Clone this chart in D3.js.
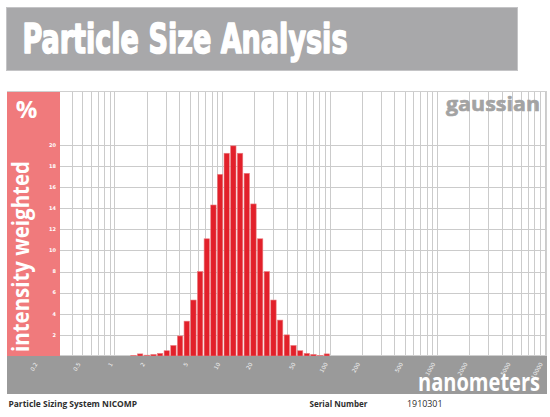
<!DOCTYPE html>
<html>
<head>
<meta charset="utf-8">
<script src="https://cdn.jsdelivr.net/npm/d3@7"></script>
<style>
  html, body { margin: 0; padding: 0; background: #fff; }
  svg { display: block; }
</style>
</head>
<body>
<div id="chart"></div>
<script>
// particle size bins (nm) and intensity weighted %
const sizes = [1.51, 1.74, 2.01, 2.32, 2.67, 3.08, 3.55, 4.10, 4.72, 5.45,
    6.30, 7.25, 8.37, 9.66, 11.1, 12.8, 14.8, 17.1, 19.7, 22.8,
    26.2, 30.3, 34.9, 40.3, 46.5, 53.6, 61.8, 71.3, 82.3, 94.8]
const values = [0.05, 0.2, 0.08, 0.15, 0.25, 0.5, 1.0, 1.9, 3.3, 5.3,
    8.0, 11.1, 14.3, 17.2, 19.2, 19.9, 19.2, 17.3, 14.4, 11.1,
    8.0, 5.3, 3.4, 2.0, 1.0, 0.5, 0.25, 0.15, 0.05, 0.2]

const xTickLabels = ['0.2', '0.5', '1', '2', '5', '10', '20', '50', '100', '200', '500', '1000', '2000', '5000', '10000']
const yTicks = [2, 4, 6, 8, 10, 12, 14, 16, 18, 20]

const title = 'Particle Size Analysis'
const footerLeft = 'Particle Sizing System NICOMP'
const serialLabel = 'Serial Number'
const serialValue = '1910301'

const W = 550, H = 417
const plot = { left: 7, right: 547, top: 92, bottom: 356 }

const svg = d3.select('#chart').append('svg')
    .attr('width', W)
    .attr('height', H)

// title bar
svg.append('rect')
    .attr('x', 6.5).attr('y', 7.5)
    .attr('width', 511).attr('height', 63)
    .attr('fill', '#a8a8aa')
    .attr('stroke', '#c4c4c6')

svg.append('text')
    .text(title)
    .attr('x', 22.5)
    .attr('y', 53)
    .attr('textLength', 325)
    .attr('lengthAdjust', 'spacingAndGlyphs')
    .style('font-family', '"DejaVu Sans Condensed", "Liberation Sans Narrow", sans-serif')
    .style('font-weight', 'bold')
    .style('font-size', '41px')
    .style('fill', '#fff')
    .style('stroke', '#fff')
    .style('stroke-width', '1.6px')
    .style('stroke-linejoin', 'round')

// scales
let x = d3.scaleLog()
    .domain([0.1, 10000])
    .range([plot.left, 544.5])

let y = d3.scaleLinear()
    .domain([0, 25])
    .range([plot.bottom, plot.top])

// grid
const g = svg.append('g')

let gridX = []
for (let dec = 0.1; dec < 10000; dec *= 10) {
    for (let k = 1; k < 10; k++) gridX.push(+(dec * k).toPrecision(3))
}
gridX.push(10000)

g.selectAll('.vgrid')
    .data(gridX)
    .enter().append('line')
    .attr('class', 'vgrid')
    .attr('x1', d => Math.round(x(d)) + 0.5)
    .attr('x2', d => Math.round(x(d)) + 0.5)
    .attr('y1', plot.top)
    .attr('y2', plot.bottom)
    .attr('stroke', '#cbcbcb')
    .attr('stroke-width', 1)

g.selectAll('.hgrid')
    .data(yTicks)
    .enter().append('line')
    .attr('class', 'hgrid')
    .attr('x1', plot.left)
    .attr('x2', plot.right)
    .attr('y1', d => Math.round(y(d)) + 0.5)
    .attr('y2', d => Math.round(y(d)) + 0.5)
    .attr('stroke', '#cbcbcb')
    .attr('stroke-width', 1)

// plot border
g.append('rect')
    .attr('x', plot.left + 0.5).attr('y', plot.top - 0.5)
    .attr('width', plot.right - plot.left - 1)
    .attr('height', plot.bottom - plot.top)
    .attr('fill', 'none')
    .attr('stroke', '#cfcfcf')

// bars: edges half way between neighbouring bins
let centers = sizes.map(d => x(d))
let bars = sizes.map((d, i) => {
    let left = i > 0 ? (centers[i - 1] + centers[i]) / 2 : centers[i] - (centers[1] - centers[0]) / 2
    let right = i < centers.length - 1 ? (centers[i] + centers[i + 1]) / 2 : centers[i] + (centers[i] - centers[i - 1]) / 2
    return { size: d, value: values[i], left: left, right: right }
})

g.selectAll('.bar')
    .data(bars)
    .enter().append('rect')
    .attr('class', 'bar')
    .attr('x', d => d.left + 0.4)
    .attr('width', d => d.right - d.left - 1.3)
    .attr('y', d => y(d.value))
    .attr('height', d => plot.bottom - y(d.value))
    .attr('fill', '#e2202a')
    .attr('stroke', '#ea7f82')
    .attr('stroke-width', 0.6)

// left pink panel
svg.append('rect')
    .attr('x', 7).attr('y', plot.top)
    .attr('width', 53).attr('height', plot.bottom - plot.top)
    .attr('fill', '#f07a7c')

svg.append('text')
    .text('%')
    .attr('x', 26.5)
    .attr('y', 118)
    .attr('text-anchor', 'middle')
    .style('font-family', '"Open Sans", "DejaVu Sans", sans-serif')
    .style('font-weight', 'bold')
    .style('font-size', '24px')
    .style('fill', '#fff')

svg.append('text')
    .text('intensity weighted')
    .attr('transform', 'translate(29,352) rotate(-90)')
    .attr('textLength', 191)
    .attr('lengthAdjust', 'spacingAndGlyphs')
    .style('font-family', '"Open Sans", "DejaVu Sans", sans-serif')
    .style('font-weight', 'bold')
    .style('font-size', '23px')
    .style('fill', '#fff')

svg.append('g')
    .selectAll('text')
    .data(yTicks)
    .enter().append('text')
    .text(d => d)
    .attr('x', 56)
    .attr('y', d => y(d))
    .attr('dy', '0.35em')
    .attr('text-anchor', 'end')
    .style('font-family', '"DejaVu Sans", sans-serif')
    .style('font-weight', 'bold')
    .style('font-size', '5px')
    .style('fill', '#fff')

// bottom gray bar
svg.append('rect')
    .attr('x', 7).attr('y', plot.bottom)
    .attr('width', plot.right - 7).attr('height', 38)
    .attr('fill', '#9a9a9a')

svg.append('g')
    .selectAll('text')
    .data(xTickLabels)
    .enter().append('text')
    .text(d => d)
    .attr('transform', d => 'translate(' + (x(+d) - 1.5) + ',' + 364 + ') rotate(-60)')
    .attr('text-anchor', 'end')
    .style('font-family', '"DejaVu Sans", sans-serif')
    .style('font-size', '5.5px')
    .style('fill', '#f2f2f2')

svg.append('text')
    .text('nanometers')
    .attr('x', 540)
    .attr('y', 391)
    .attr('text-anchor', 'end')
    .attr('textLength', 122)
    .attr('lengthAdjust', 'spacingAndGlyphs')
    .style('font-family', '"Open Sans", "DejaVu Sans", sans-serif')
    .style('font-weight', 'bold')
    .style('font-size', '25px')
    .style('fill', '#fff')

svg.append('text')
    .text('gaussian')
    .attr('x', 540)
    .attr('y', 111)
    .attr('text-anchor', 'end')
    .attr('textLength', 94)
    .attr('lengthAdjust', 'spacingAndGlyphs')
    .style('font-family', '"Open Sans", "DejaVu Sans", sans-serif')
    .style('font-weight', 'bold')
    .style('font-size', '20px')
    .style('fill', '#a3a3a3')
    .style('stroke', '#a3a3a3')
    .style('stroke-width', '0.6px')

// footer
const footer = svg.append('g')
    .style('font-family', '"Open Sans", "DejaVu Sans", sans-serif')
    .style('font-size', '9.5px')
    .style('fill', '#2e2e2e')

footer.append('text')
    .text(footerLeft)
    .attr('x', 8.5).attr('y', 406.5)
    .attr('textLength', 128.5)
    .attr('lengthAdjust', 'spacingAndGlyphs')
    .style('font-weight', 'bold')

footer.append('text')
    .text(serialLabel)
    .attr('x', 309.5).attr('y', 406.5)
    .attr('textLength', 58)
    .attr('lengthAdjust', 'spacingAndGlyphs')
    .style('font-weight', 'bold')

footer.append('text')
    .text(serialValue)
    .attr('x', 407).attr('y', 406.5)
    .attr('textLength', 35.5)
    .attr('lengthAdjust', 'spacingAndGlyphs')
</script>
</body>
</html>
